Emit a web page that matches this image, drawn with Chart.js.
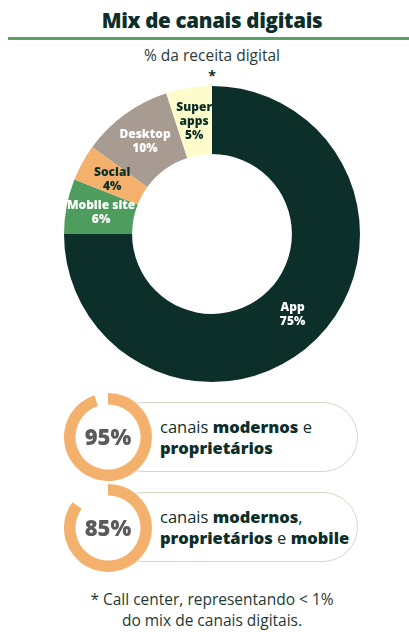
<!DOCTYPE html>
<html>
<head>
<meta charset="utf-8">
<script src="https://cdn.jsdelivr.net/npm/chart.js@4.4.0/dist/chart.umd.min.js"></script>
<style>
  body { margin: 0; width: 409px; height: 632px; background: #fff; font-family: 'Open Sans', sans-serif; color: #0d2f2a; position: relative; overflow: hidden; }
  .abs { position: absolute; }
  #title { left: 0; width: 424px; top: 6px; text-align: center; font-size: 20.5px; font-weight: 800; letter-spacing: -0.3px; }
  #rule { left: 8px; right: 0; top: 37px; height: 3px; background: #5aa163; }
  #sub { left: 0; width: 424px; top: 44px; text-align: center; font-size: 15.5px; color: #2b3a36; }
  #star { left: 0; width: 424px; top: 66px; text-align: center; font-size: 14px; font-weight: 700; }
  .pill { left: 108px; width: 250px; height: 70px; border: 1.5px solid #d9d5c6; border-radius: 36px; box-sizing: border-box; }
  .pilltxt { left: 160px; font-size: 16.5px; line-height: 21px; color: #0d2f2a; }
  .pilltxt b { font-weight: 800; }
  .ringbg { width: 88px; height: 88px; border-radius: 50%; background: #fff; }
  .ringlbl { width: 88px; text-align: center; font-size: 22px; font-weight: 800; color: #5b5b5b; }
  #foot { left: 0; width: 424px; top: 589px; text-align: center; font-size: 15.5px; line-height: 21px; color: #1f3a33; }
</style>
</head>
<body>
<div id="title" class="abs">Mix de canais digitais</div>
<div id="rule" class="abs"></div>
<div id="sub" class="abs">% da receita digital</div>
<div id="star" class="abs">*</div>

<div class="abs" style="left:64px;top:86px;width:296px;height:296px;"><canvas id="mix"></canvas></div>

<div class="pill abs" style="top:402px;"></div>
<div class="pilltxt abs" style="top:416px;">canais <b>modernos</b> e<br><b>proprietários</b></div>
<div class="ringbg abs" style="left:64px;top:393px;"></div>
<div class="abs" style="left:64px;top:393px;width:88px;height:88px;"><canvas id="ring0"></canvas></div>
<div class="ringlbl abs" style="left:64px;top:421px;">95%</div>

<div class="pill abs" style="top:492px;"></div>
<div class="pilltxt abs" style="top:506px;">canais <b>modernos</b>,<br><b>proprietários</b> e <b>mobile</b></div>
<div class="ringbg abs" style="left:64px;top:484px;"></div>
<div class="abs" style="left:64px;top:484px;width:88px;height:88px;"><canvas id="ring1"></canvas></div>
<div class="ringlbl abs" style="left:64px;top:512px;">85%</div>

<div id="foot" class="abs">* Call center, representando &lt; 1%<br>do mix de canais digitais.</div>

<script>
// data
var channelNames = ['App', 'Mobile site', 'Social', 'Desktop', 'Super apps'];
var channelShare = [75, 6, 4, 10, 5];
var channelLabels = [['App', '75%'], ['Mobile site', '6%'], ['Social', '4%'], ['Desktop', '10%'], ['Super', 'apps', '5%']];
var channelColors = ['#0d2f2a', '#4f9d5e', '#f4b16d', '#a89b91', '#fffccb'];
var labelColors = ['#ffffff', '#ffffff', '#0d2f2a', '#ffffff', '#0d2f2a'];
var ringValues = [95, 85];

// labels inside each slice
var sliceLabels = {
  id: 'sliceLabels',
  afterDatasetsDraw: function(chart) {
    var ctx = chart.ctx;
    var arcs = chart.getDatasetMeta(0).data;
    ctx.save();
    ctx.font = '800 12px "Open Sans"';
    ctx.textAlign = 'center';
    ctx.textBaseline = 'middle';
    for (var i = 0; i < arcs.length; i++) {
      var p = arcs[i].tooltipPosition();
      var lines = channelLabels[i];
      ctx.fillStyle = labelColors[i];
      var top = p.y - (lines.length - 1) * 7;
      for (var j = 0; j < lines.length; j++) {
        ctx.fillText(lines[j], p.x + (i === 1 ? 1 : 0), top + j * 14);
      }
    }
    ctx.restore();
  }
};

new Chart(document.getElementById('mix'), {
  type: 'doughnut',
  data: {
    labels: channelNames,
    datasets: [{ data: channelShare, backgroundColor: channelColors, borderWidth: 0 }]
  },
  options: {
    responsive: true,
    maintainAspectRatio: true,
    aspectRatio: 1,
    animation: false,
    cutout: '54%',
    plugins: { legend: { display: false }, tooltip: { enabled: false } }
  },
  plugins: [sliceLabels]
});

for (var k = 0; k < ringValues.length; k++) {
  new Chart(document.getElementById('ring' + k), {
    type: 'doughnut',
    data: {
      labels: ['', ''],
      datasets: [{ data: [ringValues[k], 100 - ringValues[k]], backgroundColor: ['#f4b16d', 'rgba(0,0,0,0)'], borderWidth: 0 }]
    },
    options: {
      responsive: true,
      aspectRatio: 1,
      animation: false,
      cutout: '74%',
      plugins: { legend: { display: false }, tooltip: { enabled: false } }
    }
  });
}
</script>
</body>
</html>
